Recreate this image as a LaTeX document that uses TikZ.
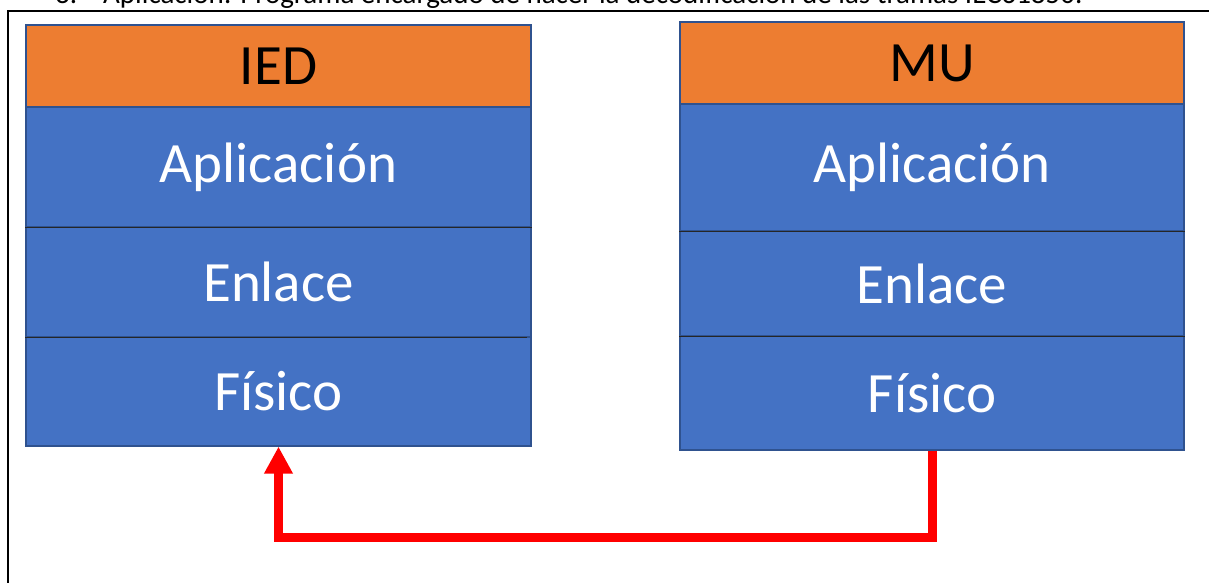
\documentclass[tikz,border=0pt]{standalone}
\usepackage{fontspec}
\setmainfont{Carlito}
\usetikzlibrary{arrows.meta}
\definecolor{orangeT}{HTML}{ED7D31}
\definecolor{blueL}{HTML}{4472C4}
\definecolor{borderB}{HTML}{2F528F}
\definecolor{redA}{HTML}{FF0000}
\tikzset{
  layer/.style={draw=borderB, line width=1.2pt, fill=blueL, text=white, inner sep=0pt,
    font=\fontsize{57}{60}\selectfont},
  title/.style={layer, fill=orangeT, text=black},
  sepline/.style={draw=black!85, line width=1.6pt},
  flow/.style={draw=redA, line width=9pt, line join=miter, -{Triangle[width=27pt,length=27pt]}},
}
\begin{document}
\begin{tikzpicture}[x=1pt,y=-1pt]
\useasboundingbox (0,0) rectangle (1209,583);
\clip (0,0) rectangle (1209,583);
\fill[white] (0,0) rectangle (1209,583);
% heading (cut off at top)
\node[anchor=base west, inner sep=0pt, font=\fontsize{29}{30}\selectfont] (num) at (55,4) {3.};
\node[anchor=base west, inner sep=0pt, font=\fontsize{29}{30}\selectfont] (head) at (103,4) {Aplicación: Programa encargado de hacer la decodificación de las tramas IEC61850.};
% frame
\draw[line width=2pt] (8,600) -- (8,11) -- (1220,11);
% IED stack
\node[title, minimum width=505pt, minimum height=82pt] (iedT) at (278.5,66) {IED};
\node[layer, minimum width=505pt, minimum height=120pt] (iedA) at (278.5,167) {Aplicación};
\node[layer, minimum width=505pt, minimum height=110pt] (iedE) at (278.5,282) {Enlace};
\node[layer, minimum width=505pt, minimum height=109pt] (iedF) at (278.5,391.5) {Físico};
\draw[sepline] (iedA.south west) -- (iedA.south east);
\draw[sepline] (iedE.south west) -- ([xshift=-5pt]iedE.south east);
% MU stack
\node[title, minimum width=504pt, minimum height=82pt] (muT) at (932,63) {MU};
\node[layer, minimum width=504pt, minimum height=127pt] (muA) at (932,167.5) {Aplicación};
\node[layer, minimum width=504pt, minimum height=105pt] (muE) at (932,283.5) {Enlace};
\node[layer, minimum width=504pt, minimum height=114pt] (muF) at (932,393) {Físico};
\draw[sepline] (muA.south west) -- (muA.south east);
\draw[sepline] (muE.south west) -- (muE.south east);
% connector
\coordinate (bend) at (0,537);
\draw[flow] (muF.south) -- (muF.south |- bend) -- (iedF.south |- bend) -- (iedF.south);
\end{tikzpicture}
\end{document}
